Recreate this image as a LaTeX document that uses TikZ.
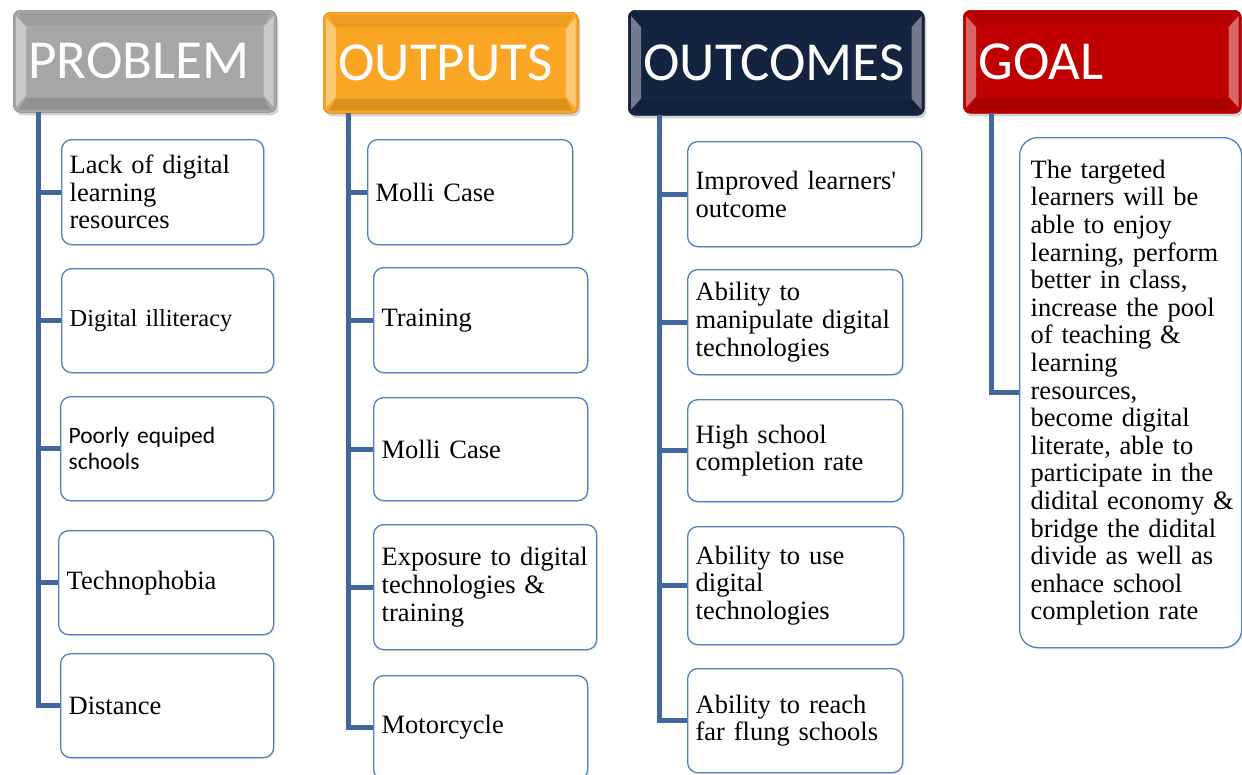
\documentclass[tikz,border=0pt]{standalone}
\usepackage{fontspec}
\setmainfont{Liberation Serif}
\newfontfamily\calib{Carlito}
\usetikzlibrary{calc,shadows}
\definecolor{hgray}{RGB}{166,166,166}
\definecolor{horange}{RGB}{250,165,35}
\definecolor{hnavy}{RGB}{20,36,64}
\definecolor{hred}{RGB}{192,0,0}
\definecolor{boxblue}{RGB}{79,129,189}
\definecolor{lineblue}{RGB}{64,104,156}
\newcommand\nohyph{\hyphenpenalty=10000\relax}
\newcommand\bevel[1]{%
 \fill[white,opacity=.4] ($(#1.north west)+(3,6)$) -- ($(#1.north west)+(13,17)$) -- ($(#1.south west)+(13,-17)$) -- ($(#1.south west)+(3,-6)$) -- cycle;
 \fill[white,opacity=.4] ($(#1.north east)+(-3,6)$) -- ($(#1.north east)+(-13,17)$) -- ($(#1.south east)+(-13,-17)$) -- ($(#1.south east)+(-3,-6)$) -- cycle;
 \fill[black,opacity=.06] ($(#1.north west)+(6,3)$) -- ($(#1.north east)+(-6,3)$) -- ($(#1.north east)+(-13,15)$) -- ($(#1.north west)+(13,15)$) -- cycle;
 \fill[black,opacity=.12] ($(#1.south west)+(6,-3)$) -- ($(#1.south east)+(-6,-3)$) -- ($(#1.south east)+(-13,-15)$) -- ($(#1.south west)+(13,-15)$) -- cycle;
}
\begin{document}
\begin{tikzpicture}[x=1pt,y=-1pt,
  hdr/.style={anchor=north west, rounded corners=7pt, inner xsep=15pt, inner ysep=0pt,
    align=left, text=white, font=\calib\fontsize{55}{60}\selectfont,
    draw=#1!80!black, line width=0.6pt, fill=#1,
    drop shadow={opacity=0.35, shadow xshift=2pt, shadow yshift=-3pt}},
  cbox/.style={anchor=north west, rounded corners=10pt, draw=boxblue, line width=1.3pt,
    fill=white, inner xsep=8pt, inner ysep=0pt, align=left,
    font=\nohyph\fontsize{26.5}{27.6}\selectfont,
    drop shadow={opacity=0.12, shadow xshift=1.5pt, shadow yshift=-1.5pt}},
  conn/.style={draw=lineblue, line width=5pt}
]
\useasboundingbox (0,0) rectangle (1242,774);
\clip (0,0) rectangle (1242,774);
\fill[white] (0,0) rectangle (1242,774);

% headers
\node[hdr=hgray, minimum width=263pt, minimum height=102pt, text width=233pt] (h1) at (13,10) {PROBLEM};
\node[hdr=horange, minimum width=255pt, minimum height=101pt, text width=225pt] (h2) at (323,12) {OUTPUTS};
\node[hdr=hnavy, minimum width=296pt, minimum height=105pt, text width=266pt] (h3) at (628,10) {OUTCOMES};
\node[hdr=hred, minimum width=278pt, minimum height=103pt, text width=248pt] (h4) at (963,10) {GOAL};
\bevel{h1}\bevel{h2}\bevel{h3}\bevel{h4}

% PROBLEM column
\node[cbox, minimum height=105pt, text width=186pt] (p1) at (61,139) {Lack of digital\\learning\\resources};
\node[cbox, minimum height=104pt, text width=196pt, font=\fontsize{24.4}{27}\selectfont] (p2) at (61,268) {Digital illiteracy};
\node[cbox, minimum height=104pt, text width=197pt, font=\calib\fontsize{23.5}{26.5}\selectfont] (p3) at (60,396) {Poorly equiped\\schools};
\node[cbox, minimum height=104pt, text width=199pt] (p4) at (58,530) {Technophobia};
\node[cbox, minimum height=104pt, text width=197pt] (p5) at (60,653) {Distance};

% OUTPUTS column
\node[cbox, minimum height=105pt, text width=189pt] (o1) at (367,139) {Molli Case};
\node[cbox, minimum height=105pt, text width=198pt] (o2) at (373,267) {Training};
\node[cbox, minimum height=103pt, text width=198pt] (o3) at (373,397) {Molli Case};
\node[cbox, minimum height=125pt, text width=207pt] (o4) at (373,524) {\mbox{Exposure to digital}\\\mbox{technologies \&}\\training};
\node[cbox, minimum height=104pt, text width=198pt] (o5) at (373,675) {Motorcycle};

% OUTCOMES column
\node[cbox, minimum height=105pt, text width=218pt] (c1) at (687,141) {\mbox{Improved learners\textquotesingle}\\outcome};
\node[cbox, minimum height=105pt, text width=199pt] (c2) at (687,269) {Ability to\\\mbox{manipulate digital}\\technologies};
\node[cbox, minimum height=102pt, text width=199pt] (c3) at (687,399) {High school\\completion rate};
\node[cbox, minimum height=118pt, text width=200pt] (c4) at (687,526) {Ability to use\\digital\\technologies};
\node[cbox, minimum height=104pt, text width=199pt] (c5) at (687,668) {\mbox{Ability to reach}\\\mbox{far flung schools}};

% GOAL column
\node[cbox, rounded corners=18pt, inner xsep=11pt, minimum height=510pt, text width=200pt] (g1) at (1019,137)
 {\mbox{The targeted}\\\mbox{learners will be}\\\mbox{able to enjoy}\\\mbox{learning, perform}\\\mbox{better in class,}\\\mbox{increase the pool}\\\mbox{of teaching \&}\\learning\\resources,\\\mbox{become digital}\\\mbox{literate, able to}\\\mbox{participate in the}\\\mbox{didital economy \&}\\\mbox{bridge the didital}\\\mbox{divide as well as}\\\mbox{enhace school}\\\mbox{completion rate}};

% connector lines
\coordinate (l1) at (38,112);
\coordinate (l2) at (348,113);
\coordinate (l3) at (659,115);
\coordinate (l4) at (991,113);
\draw[conn] (l1) |- (p5.west);
\foreach \n in {p1,p2,p3,p4} \draw[conn] (l1 |- \n.west) -- (\n.west);
\draw[conn] (l2) |- (o5.west);
\foreach \n in {o1,o2,o3,o4} \draw[conn] (l2 |- \n.west) -- (\n.west);
\draw[conn] (l3) |- (c5.west);
\foreach \n in {c1,c2,c3,c4} \draw[conn] (l3 |- \n.west) -- (\n.west);
\draw[conn] (l4) |- (g1.west);
\end{tikzpicture}
\end{document}
